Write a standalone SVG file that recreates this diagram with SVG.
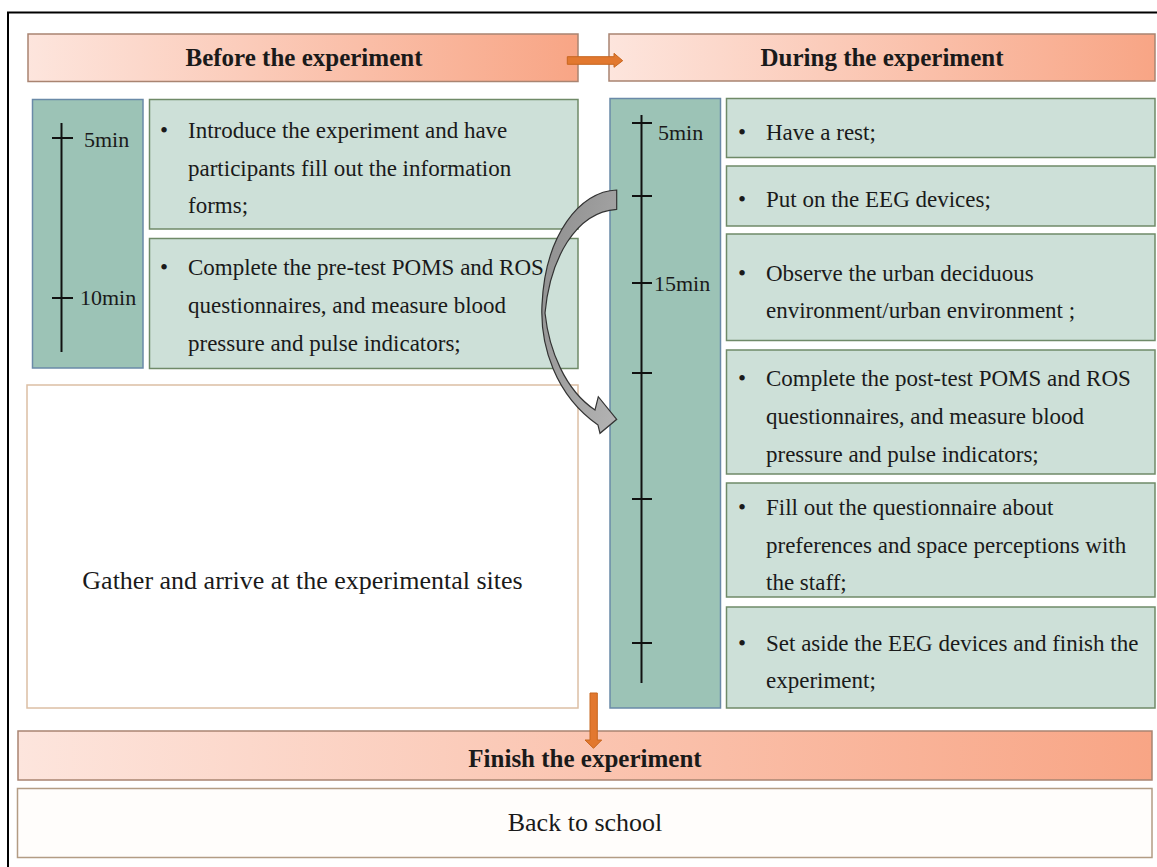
<svg xmlns="http://www.w3.org/2000/svg" width="1157" height="867" viewBox="0 0 1157 867">
<defs>
<linearGradient id="hdr" x1="0" y1="0" x2="1" y2="0">
<stop offset="0" stop-color="#fde5dd"/>
<stop offset="1" stop-color="#f8a585"/>
</linearGradient>
<linearGradient id="gray" x1="0" y1="0" x2="1" y2="1">
<stop offset="0" stop-color="#8c8c8c"/>
<stop offset="1" stop-color="#b4b4b4"/>
</linearGradient>
</defs>
<style>
.hdr{fill:url(#hdr);stroke:#a98471;stroke-width:1.5}
.tl{fill:#9cc3b6;stroke:#6a8aa8;stroke-width:1.5}
.bx{fill:#cde0d8;stroke:#6f8a68;stroke-width:1.5}
.wb{fill:#ffffff;stroke:#dcbfa4;stroke-width:1.5}
.wb2{fill:#fffdfb;stroke:#b39c84;stroke-width:1.5}
.ax{stroke:#111;stroke-width:2;fill:none}
text{font-family:"Liberation Serif","Times New Roman",serif;fill:#1a1a1a}
.h{font-size:25px;font-weight:bold;text-anchor:middle}
.t{font-size:23px}
.m{font-size:22px}
.c{font-size:26px;text-anchor:middle}
.oa{fill:#e2782f;stroke:#c7661f;stroke-width:1}
</style>
<rect width="1157" height="867" fill="#ffffff"/>
<path d="M8,867 V12.5 H1157" fill="none" stroke="#000" stroke-width="2"/>

<g id="before-header">
<rect class="hdr" x="28" y="34" width="550" height="47.5"/>
<text class="h" x="304" y="66">Before the experiment</text>
</g>
<g id="during-header">
<rect class="hdr" x="609" y="34" width="546" height="47"/>
<text class="h" x="882" y="66">During the experiment</text>
</g>

<g id="before-timeline">
<rect class="tl" x="32.5" y="99.5" width="110.5" height="268.5"/>
<line class="ax" x1="61.5" y1="123" x2="61.5" y2="352"/>
<line class="ax" x1="52" y1="138" x2="73" y2="138"/>
<line class="ax" x1="52" y1="298" x2="73" y2="298"/>
<text class="m" x="84" y="147">5min</text>
<text class="m" x="80" y="305">10min</text>
</g>
<g id="before-step1">
<rect class="bx" x="149.5" y="99.5" width="428.5" height="129.5"/>
<text class="t" x="160" y="138">•</text>
<text class="t" x="188" y="138">Introduce the experiment and have</text>
<text class="t" x="188" y="176">participants fill out the information</text>
<text class="t" x="188" y="213">forms;</text>
</g>
<g id="before-step2">
<rect class="bx" x="149.5" y="238.5" width="428.5" height="130"/>
<text class="t" x="160" y="275">•</text>
<text class="t" x="188" y="275">Complete the pre-test POMS and ROS</text>
<text class="t" x="188" y="313">questionnaires, and measure blood</text>
<text class="t" x="188" y="351">pressure and pulse indicators;</text>
</g>
<g id="gather">
<rect class="wb" x="27" y="385" width="551" height="323"/>
<text class="c" x="302.5" y="589">Gather and arrive at the experimental sites</text>
</g>

<g id="during-timeline">
<rect class="tl" x="610" y="98.5" width="110.5" height="609.5"/>
<line class="ax" x1="641.5" y1="115" x2="641.5" y2="683"/>
<line class="ax" x1="632" y1="123" x2="652" y2="123"/>
<line class="ax" x1="632" y1="196" x2="652" y2="196"/>
<line class="ax" x1="632" y1="283" x2="652" y2="283"/>
<line class="ax" x1="632" y1="373" x2="652" y2="373"/>
<line class="ax" x1="632" y1="499" x2="652" y2="499"/>
<line class="ax" x1="632" y1="643" x2="652" y2="643"/>
<text class="m" x="658" y="140">5min</text>
<text class="m" x="654" y="291">15min</text>
</g>
<g id="during-rest">
<rect class="bx" x="726.5" y="98.5" width="428.5" height="59"/>
<text class="t" x="738" y="140">•</text>
<text class="t" x="766" y="140">Have a rest;</text>
</g>
<g id="during-eeg-on">
<rect class="bx" x="726.5" y="166" width="428.5" height="60"/>
<text class="t" x="738" y="207">•</text>
<text class="t" x="766" y="207">Put on the EEG devices;</text>
</g>
<g id="during-observe">
<rect class="bx" x="726.5" y="234" width="428.5" height="106.5"/>
<text class="t" x="738" y="281">•</text>
<text class="t" x="766" y="281">Observe the urban deciduous</text>
<text class="t" x="766" y="318">environment/urban environment ;</text>
</g>
<g id="during-posttest">
<rect class="bx" x="726.5" y="350" width="428.5" height="124"/>
<text class="t" x="738" y="386">•</text>
<text class="t" x="766" y="386">Complete the post-test POMS and ROS</text>
<text class="t" x="766" y="424">questionnaires, and measure blood</text>
<text class="t" x="766" y="462">pressure and pulse indicators;</text>
</g>
<g id="during-questionnaire">
<rect class="bx" x="726.5" y="483" width="428.5" height="114"/>
<text class="t" x="738" y="515">•</text>
<text class="t" x="766" y="515">Fill out the questionnaire about</text>
<text class="t" x="766" y="553">preferences and space perceptions with</text>
<text class="t" x="766" y="590">the staff;</text>
</g>
<g id="during-finish">
<rect class="bx" x="726.5" y="607" width="428.5" height="101"/>
<text class="t" x="738" y="651">•</text>
<text class="t" x="766" y="651">Set aside the EEG devices and finish the</text>
<text class="t" x="766" y="688">experiment;</text>
</g>

<g id="finish-header">
<rect class="hdr" x="18" y="731" width="1134" height="49"/>
<text class="h" x="585" y="767">Finish the experiment</text>
</g>
<g id="back-to-school">
<rect class="wb2" x="17.5" y="788.5" width="1134.5" height="69"/>
<text class="c" x="585" y="831">Back to school</text>
</g>

<g id="connectors">
<path class="oa" d="M567.3,56.7 H614 V53.3 L622.7,60.7 L614,67.3 V64.3 H567.3 Z"/>
<path class="oa" d="M590,693 H597.3 V740 H601.7 L593.5,748.3 L585,740 H590 Z"/>
<path d="M616.7,190 C580,191 545,235 542,305 C540,345 555,395 598,425 L600,433.3 L616.7,419.3 L598.3,396.7 L595,410 C565,390 549,350 545,313 C550,260 575,212 616.7,209.3 Z" fill="url(#gray)" stroke="#333" stroke-width="1.2"/>
</g>
</svg>
